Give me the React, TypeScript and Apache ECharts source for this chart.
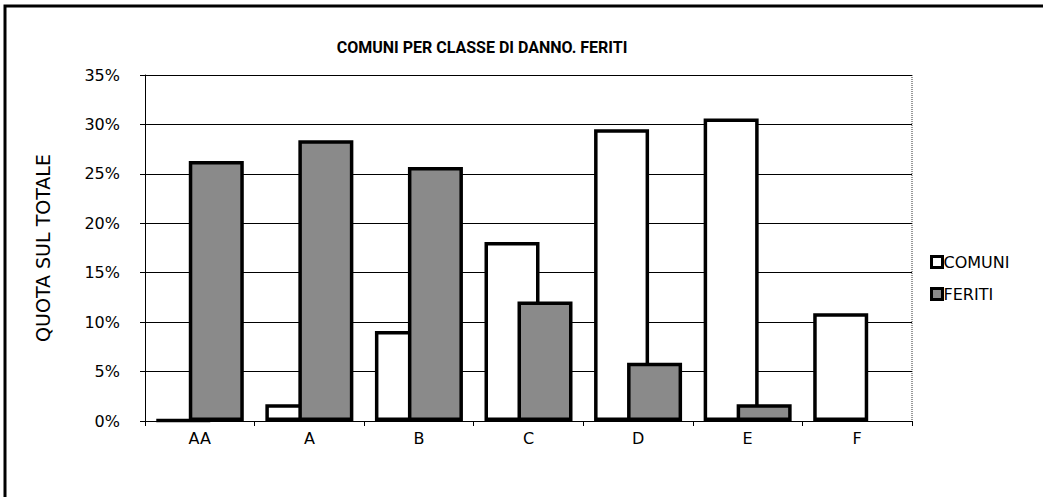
import React, { useEffect, useRef } from "react";
import * as echarts from "echarts";

const categories = ["AA", "A", "B", "C", "D", "E", "F"];
const comuni = [0.1, 1.7, 9.1, 18.1, 29.5, 30.6, 10.9];
const feriti: (number | null)[] = [26.3, 28.4, 25.7, 12.1, 5.9, 1.7, null];
const yTicks = [0, 5, 10, 15, 20, 25, 30, 35];

export default function App() {
  const ref = useRef<HTMLDivElement>(null);
  useEffect(() => {
    document.body.style.margin = "0";
    const chart = echarts.init(ref.current!, null, { renderer: "svg" });
    const font = "DejaVu Sans";
    chart.setOption({
      animation: false,
      backgroundColor: "#ffffff",
      title: {
        text: "COMUNI PER CLASSE DI DANNO. FERITI",
        left: 477,
        textAlign: "center",
        top: 34,
        textStyle: { fontFamily: "Roboto", fontWeight: "bold", fontSize: 16, color: "#000" },
      },
      legend: {
        orient: "vertical",
        left: 925,
        top: 249,
        itemGap: 16,
        itemWidth: 11,
        itemHeight: 11,
        icon: "rect",
        itemStyle: { borderColor: "#000", borderWidth: 3 },
        textStyle: { fontFamily: font, fontSize: 16, color: "#000", padding: [0, 0, 0, -4] },
        data: ["COMUNI", "FERITI"],
      },
      grid: { left: 145, right: 131, top: 75, bottom: 76 },
      xAxis: {
        type: "category",
        data: categories,
        axisLine: { lineStyle: { color: "#000", width: 1 } },
        axisTick: { show: true, length: 5, lineStyle: { color: "#000" } },
        axisLabel: { fontFamily: font, fontSize: 16, color: "#000", margin: 9 },
      },
      yAxis: {
        type: "value",
        min: 0,
        max: 35,
        interval: 5,
        name: "QUOTA SUL TOTALE",
        nameLocation: "middle",
        nameGap: 93,
        nameTextStyle: { fontFamily: font, fontSize: 19, color: "#000" },
        axisLine: { show: true, lineStyle: { color: "#000", width: 1 } },
        axisTick: { show: true, length: 5, lineStyle: { color: "#000" } },
        axisLabel: {
          fontFamily: font,
          fontSize: 16,
          color: "#000",
          margin: 25,
          formatter: (v: number) => (yTicks.includes(v) ? v + "%" : ""),
        },
        splitLine: { show: true, lineStyle: { color: "#000", width: 1 } },
      },
      graphic: [
        {
          type: "rect",
          shape: { x: 5, y: 6, width: 1100, height: 520 },
          style: { fill: "none", stroke: "#000", lineWidth: 3 },
          silent: true,
        },
        {
          type: "line",
          shape: { x1: 912, y1: 75, x2: 912, y2: 421 },
          style: { stroke: "#777", lineWidth: 1.5, lineDash: [1, 1] },
          silent: true,
        },
      ],
      series: [
        {
          name: "COMUNI",
          type: "bar",
          data: comuni,
          barWidth: 55,
          barGap: "-40%",
          itemStyle: { color: "#ffffff", borderColor: "#000", borderWidth: 3.5 },
        },
        {
          name: "FERITI",
          type: "bar",
          data: feriti,
          barWidth: 55,
          itemStyle: { color: "#8a8a8a", borderColor: "#000", borderWidth: 3.5 },
        },
      ],
    });
    return () => chart.dispose();
  }, []);
  return <div ref={ref} style={{ position: "absolute", left: 0, top: 0, width: 1043, height: 497 }} />;
}
